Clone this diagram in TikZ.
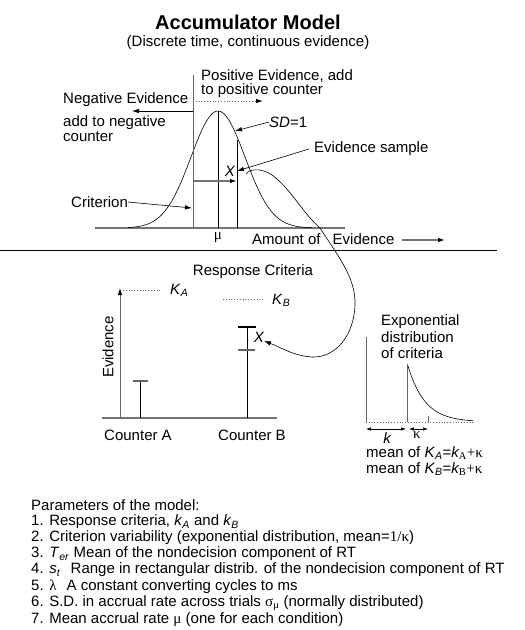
\documentclass[tikz,border=0pt]{standalone}
\usepackage{fontspec}
\setmainfont{Liberation Sans}
\newfontfamily\grk{Liberation Serif}
\usetikzlibrary{arrows.meta}
\begin{document}
\begin{tikzpicture}[x=1pt,y=-1pt,
  txt/.style={inner sep=0pt, font=\fontsize{15}{17}\selectfont},
  gline/.style={draw=black!55, line width=1.6pt},
  fine/.style={draw=black, line width=0.6pt},
  vline/.style={draw=black, line width=0.8pt},
  gvline/.style={draw=black!60, line width=0.8pt},
  dotline/.style={draw=black!60, line width=0.8pt, dotted},
  arr/.style={-{Latex[length=7pt,width=4.5pt,color=black]}},
  darr/.style={{Latex[length=5pt,width=3.5pt]}-{Latex[length=5pt,width=3.5pt]}},
]
\useasboundingbox (0,0) rectangle (525,630);

% titles
\node[inner sep=0pt, font=\bfseries\fontsize{20}{22}\selectfont] (title) at (248,22) {Accumulator Model};
\node[txt] (subtitle) at (248,43) {(Discrete time, continuous evidence)};

% ---------- top graph ----------
\coordinate (b1) at (95,228);
\coordinate (b2) at (345,228);
\draw[gline] (b1) -- (b2);
\draw[fine] plot[domain=128:312, samples=90, smooth] (\x, {228-117*exp(-((\x-218)^2)/(2*27*27))});
\coordinate (critB) at (193,228);
\coordinate (critT) at (193,75);
\draw[gvline] (critB) -- (critT);
\coordinate (muB) at (218,228);
\coordinate (muT) at (218,111);
\draw[vline] (muB) -- (muT);
\coordinate (smpB) at (237,228);
\coordinate (smpT) at (237,140);
\draw[vline] (smpB) -- (smpT);
\coordinate (hs) at (193,181);
\coordinate (he) at (237,181);
\draw[gline, arr] (hs) -- (he);
\node[txt, font=\itshape\fontsize{15}{17}\selectfont] (X1) at (230,171) {X};

% labels top
\node[txt, anchor=west] (neg1) at (63,100) {Negative Evidence};
\node[txt, anchor=west] (neg2) at (63,123) {add to negative};
\node[txt, anchor=west] (neg3) at (63,137) {counter};
\coordinate (negS) at (193,111);
\coordinate (negE) at (132,111);
\draw[fine, arr] (negS) -- (negE);
\node[txt, anchor=west] (pos1) at (201,76) {Positive Evidence, add};
\node[txt, anchor=west] (pos2) at (201,91) {to positive counter};
\coordinate (posS) at (193,101);
\coordinate (posE) at (263,101);
\draw[dotline, arr] (posS) -- (posE);
\node[txt, anchor=west] (sd) at (269,122) {\textit{SD}=1};
\coordinate (sdE) at (235,131);
\draw[fine, arr] (sd.west) -- (sdE);
\node[txt, anchor=west] (evs) at (314,149) {Evidence sample};
\coordinate (evsE) at (237,171);
\draw[fine, arr] ([xshift=-5pt]evs.west) -- (evsE);
\node[txt, anchor=west] (crit) at (71,202) {Criterion};
\coordinate (critE) at (192,208);
\draw[fine, arr] (crit.east) -- (critE);
\node[txt, font=\grk\fontsize{15}{17}\selectfont] (mu) at (218,238) {μ};
\node[txt, anchor=west] (amt) at (252,239) {Amount of\hspace{8pt} Evidence};
\coordinate (amtS) at (402,240);
\coordinate (amtE) at (445,240);
\draw[gline, line width=1.2pt, arr] (amtS) -- (amtE);

% separator
\coordinate (sep1) at (0,250);
\coordinate (sep2) at (497,250);
\draw[draw=black, line width=1pt] (sep1) -- (sep2);

% ---------- counters ----------
\coordinate (cb1) at (102,418);
\coordinate (cb2) at (277,418);
\draw[gline] (cb1) -- (cb2);
\coordinate (axB) at (120,418);
\coordinate (axT) at (120,288);
\draw[gvline, arr] (axB) -- (axT);
\node[txt, rotate=90] (evid) at (108,347) {Evidence};
\node[txt] (resp) at (253,272) {Response Criteria};
\coordinate (kaS) at (123,290);
\coordinate (kaE) at (162,290);
\draw[dotline] (kaS) -- (kaE);
\node[txt, anchor=west] (KA) at (170,290) {\textit{K}\textsubscript{\textit{A}}};
\coordinate (kbS) at (223,299);
\coordinate (kbE) at (263,299);
\draw[dotline] (kbS) -- (kbE);
\node[txt, anchor=west] (KB) at (272,300) {\textit{K}\textsubscript{\textit{B}}};
% counter A
\coordinate (caB) at (140,418);
\coordinate (caT) at (140,381);
\draw[vline] (caB) -- (caT);
\coordinate (caL) at (133,381);
\coordinate (caR) at (148,381);
\draw[gvline, line width=1.2pt] (caL) -- (caR);
% counter B
\coordinate (cbB) at (247,418);
\coordinate (cbT) at (247,327);
\draw[vline] (cbB) -- (cbT);
\coordinate (cbL) at (238,327);
\coordinate (cbR) at (256,327);
\draw[vline, line width=1.1pt] (cbL) -- (cbR);
\coordinate (cmL) at (238,350);
\coordinate (cmR) at (255,350);
\draw[gvline, line width=1.2pt] (cmL) -- (cmR);
\node[txt, font=\itshape\fontsize{15}{17}\selectfont] (X2) at (259,337) {X};
\node[txt] (cA) at (138,435) {Counter A};
\node[txt] (cB) at (252,435) {Counter B};

% sample distribution curve continuing into arrow
\coordinate (s0) at (246,174);
\coordinate (s1) at (278,180);
\coordinate (s2) at (320,228);
\coordinate (s3) at (355,305);
\coordinate (s4) at (312,357);
\coordinate (s5) at (264,341);
\draw[fine, arr] (s0) .. controls (250,168) and (265,167) .. (s1)
  .. controls (292,192) and (304,214) .. (s2)
  .. controls (338,256) and (356,278) .. (s3)
  .. controls (354,335) and (336,358) .. (s4)
  .. controls (294,356) and (280,347) .. (s5);

% ---------- exponential ----------
\node[txt, anchor=west] (ex1) at (381,322) {Exponential};
\node[txt, anchor=west] (ex2) at (381,337) {distribution};
\node[txt, anchor=west] (ex3) at (381,353) {of criteria};
\coordinate (eaB) at (366,422);
\coordinate (eaT) at (366,337);
\draw[gvline] (eaB) -- (eaT);
\coordinate (ebE) at (474,422);
\draw[dotline, line width=1pt] (eaB) -- (ebE);
\coordinate (ecB) at (407,422);
\coordinate (ecT) at (407,364);
\draw[gvline] (ecB) -- (ecT);
\draw[fine] plot[domain=408:473, samples=50, smooth] (\x, {422-56*exp(-(\x-408)/17)});
\coordinate (emB) at (428,422);
\coordinate (emT) at (428,416);
\draw[gvline] (emB) -- (emT);
\coordinate (k1) at (366,429);
\coordinate (k2) at (406,429);
\coordinate (k3) at (409,429);
\coordinate (k4) at (428,429);
\draw[fine, darr] (k1) -- (k2);
\draw[fine, darr] (k3) -- (k4);
\node[txt, font=\itshape\fontsize{15}{17}\selectfont] (klab) at (387,438) {k};
\node[txt, font=\grk\fontsize{15}{17}\selectfont] (kappa) at (417,435) {κ};
\node[txt, anchor=west] (m1) at (366,453) {mean of \textit{K}\textsubscript{\textit{A}}={\itshape k}{\grk\textsubscript{A}+κ}};
\node[txt, anchor=west] (m2) at (366,469) {mean of \textit{K}\textsubscript{\textit{B}}={\itshape k}{\grk\textsubscript{B}+κ}};

% ---------- parameters ----------
\node[txt, anchor=west] (p0) at (31,505) {Parameters of the model:};
\node[txt, anchor=west] (p1) at (31,522) {1. Response criteria, \textit{k}\textsubscript{\textit{A}} and \textit{k}\textsubscript{\textit{B}}};
\node[txt, anchor=west] (p2) at (31,538) {2. Criterion variability (exponential distribution, mean={\grk 1/κ})};
\node[txt, anchor=west] (p3) at (31,554) {3. \textit{T}\textsubscript{\textit{er}} Mean of the nondecision component of RT};
\node[txt, anchor=west] (p4) at (31,570) {4. \textit{s}\textsubscript{\textit{t}}\hspace{6pt} Range in rectangular distrib. of the nondecision component of RT};
\node[txt, anchor=west] (p5) at (31,587) {5. {\grk λ}\hspace{6pt} A constant converting cycles to ms};
\node[txt, anchor=west] (p6) at (31,603) {6. S.D. in accrual rate across trials {\grk σ\textsubscript{μ}} (normally distributed)};
\node[txt, anchor=west] (p7) at (31,620) {7. Mean accrual rate {\grk μ} (one for each condition)};
\end{tikzpicture}
\end{document}
